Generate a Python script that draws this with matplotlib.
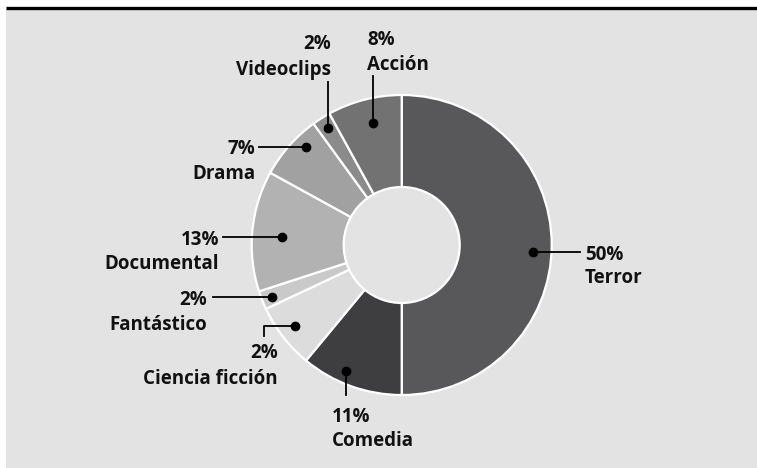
import numpy as np
import matplotlib
matplotlib.use("Agg")
from matplotlib import pyplot as plt
from matplotlib.patches import Rectangle

# data (clockwise from 12 o'clock)
generos = ["Terror", "Comedia", "Ciencia ficción", "Fantástico",
           "Documental", "Drama", "Videoclips", "Acción"]
valores = [50, 11, 7, 2, 13, 7, 2, 8]
etiquetas_pct = ["50%", "11%", "2%", "2%", "13%", "7%", "2%", "8%"]
colores = ["#58585a", "#3e3d3f", "#dcdcdd", "#c9c9ca",
           "#b2b2b3", "#a1a1a2", "#8b8b8c", "#727273"]

BG = "#e2e3e2"
W, H = 757, 468
cx, cy, R, r_in = 401.7, 245, 150, 58

plt.rcParams["font.family"] = ["Open Sans", "DejaVu Sans"]

fig = plt.figure(figsize=(W / 100, H / 100), dpi=100, facecolor="white")
ax = fig.add_axes([0, 0, 1, 1])

ax.add_patch(Rectangle((6, 9), W, H, facecolor=BG, edgecolor="none", zorder=0))
ax.plot([6, W], [8, 8], color="black", lw=2.4, solid_capstyle="butt", zorder=1)

# y axis is inverted, so counterclock in data = clockwise on screen
wedges, _ = ax.pie(valores, colors=colores, startangle=-90, counterclock=True,
                   center=(cx, cy), radius=R, frame=True,
                   wedgeprops=dict(width=R - r_in, edgecolor="white", linewidth=1.6))
ax.set_xlim(0, W)
ax.set_ylim(H, 0)
ax.set_aspect("equal")
ax.axis("off")

# label layout: dot radius / angle shift, leader end, text anchor
layout = {
    "Terror":          dict(rd=131, da=3, end=("h", 580), tx=585, ha="left", y=(260, 283)),
    "Comedia":         dict(rd=138, da=4, end=("v", 395), tx=332, ha="left", y=(422, 446)),
    "Ciencia ficción": dict(rd=134, da=0.7, end=("hv", 264, 336), tx=278, ha="right", y=(358, 384)),
    "Fantástico":      dict(rd=140, da=0, end=("h", 213), tx=207, ha="right", y=(305, 330)),
    "Documental":      dict(rd=120, da=-1.7, end=("h", 223), tx=219, ha="right", y=(245, 269)),
    "Drama":           dict(rd=137, da=4.5, end=("h", 259), tx=255, ha="right", y=(154, 179)),
    "Videoclips":      dict(rd=138, da=0, end=("v", 82), tx=331.5, ha="right", y=(49, 75)),
    "Acción":          dict(rd=125, da=1.2, end=("v", 76), tx=367, ha="left", y=(45, 70.5)),
}

for w, nombre, pct in zip(wedges, generos, etiquetas_pct):
    L = layout[nombre]
    ang = np.deg2rad((w.theta1 + w.theta2) / 2 + L["da"])
    dx, dy = cx + L["rd"] * np.cos(ang), cy + L["rd"] * np.sin(ang)
    e = L["end"]
    if e[0] == "h":
        xs, ys = [dx, e[1]], [dy, dy]
    elif e[0] == "v":
        xs, ys = [dx, dx], [dy, e[1]]
    else:
        xs, ys = [dx, e[1], e[1]], [dy, dy, e[2]]
    ax.plot(xs, ys, color="black", lw=1.3, zorder=5)
    ax.plot(dx, dy, "o", color="black", ms=6, zorder=6)
    ax.text(L["tx"], L["y"][0], pct, ha=L["ha"], va="baseline",
            fontsize=13.5, fontweight="bold", color="#111111")
    ax.text(L["tx"], L["y"][1], nombre, ha=L["ha"], va="baseline",
            fontsize=13.5, fontweight="bold", color="#111111")

fig.savefig("out.png", dpi=100, facecolor="white")
